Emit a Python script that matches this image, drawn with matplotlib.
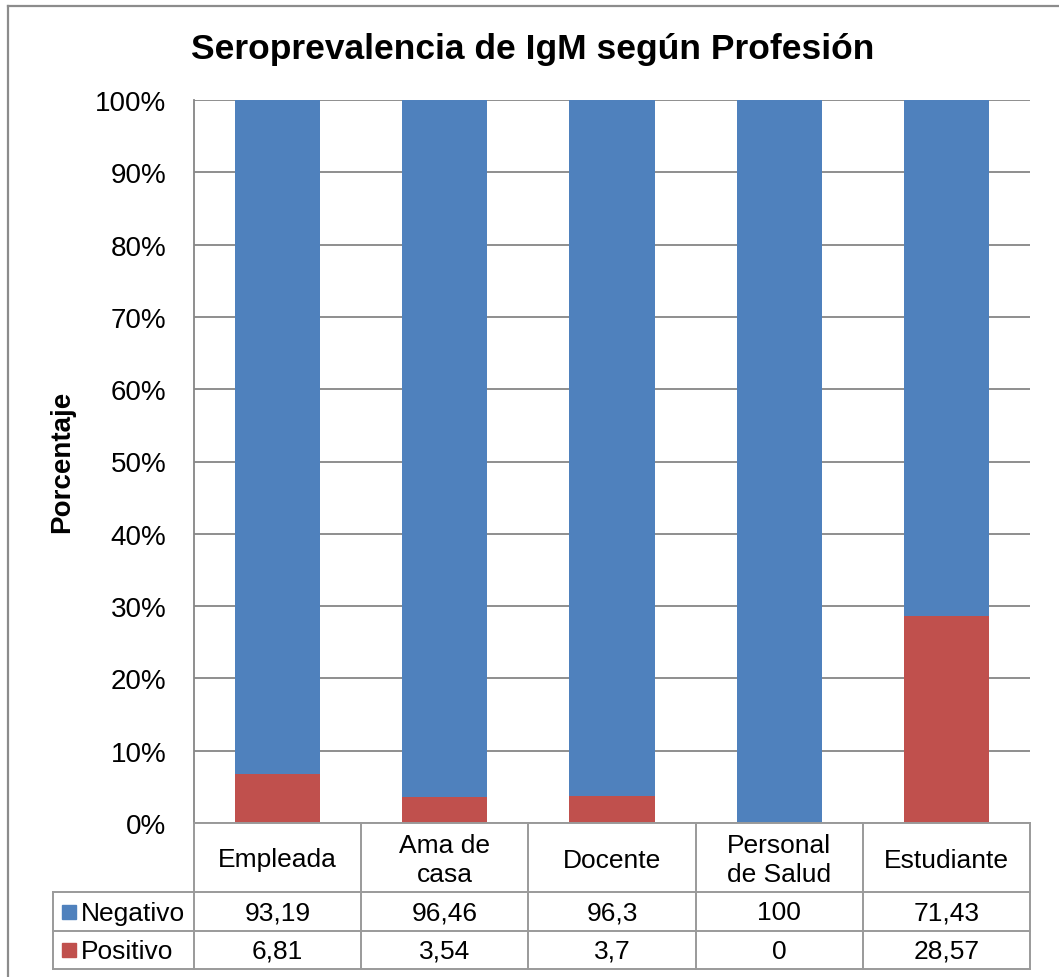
import matplotlib
matplotlib.use("Agg")
import matplotlib.pyplot as plt
from matplotlib.patches import Rectangle

plt.rcParams['font.family'] = ['Liberation Sans', 'DejaVu Sans']

profesiones = ["Empleada", "Ama de\ncasa", "Docente", "Personal\nde Salud", "Estudiante"]
negativo = [93.19, 96.46, 96.3, 100, 71.43]
positivo = [6.81, 3.54, 3.7, 0, 28.57]
series = ["Negativo", "Positivo"]
colores = ["#4F81BD", "#C0504D"]
titulo = "Seroprevalencia de IgM según Profesión"

W, H = 1059, 978
fig = plt.figure(figsize=(W / 100, H / 100), dpi=100)

# plot area in pixels
x0, x1, ytop, ybot = 194, 1030, 101, 824
ax = fig.add_axes([x0 / W, 1 - ybot / H, (x1 - x0) / W, (ybot - ytop) / H])

n = len(profesiones)
pos = list(range(n))
ax.bar(pos, positivo, width=0.51, color=colores[1], zorder=3)
ax.bar(pos, negativo, width=0.51, bottom=positivo, color=colores[0], zorder=3)
ax.set_xlim(-0.5, n - 0.5)
ax.set_ylim(0, 100)
ax.set_yticks(range(0, 101, 10))
ax.set_yticklabels([f"{t}%" for t in range(0, 101, 10)], fontsize=20)
ax.set_xticks([])
ax.yaxis.grid(True, color="#868686", linewidth=1.3, zorder=0)
ax.tick_params(axis="y", length=0, pad=20)
for s in ["top", "right", "bottom"]:
    ax.spines[s].set_visible(False)
ax.spines["left"].set_color("#868686")
ax.spines["left"].set_linewidth(1.3)

# overlay in pixel coords for title, table, border
ov = fig.add_axes([0, 0, 1, 1])
ov.set_xlim(0, W)
ov.set_ylim(H, 0)
ov.axis("off")
ov.patch.set_alpha(0)

ov.plot([8, 8], [7, H], color="#8c8c8c", lw=1.6)
ov.plot([8, W], [7, 7], color="#8c8c8c", lw=1.6)

ov.text(533, 50, titulo, ha="center", va="center",
        fontsize=25.5, fontweight="bold")
ov.text(62, 462, "Porcentaje", ha="center", va="center", rotation=90,
        fontsize=20, fontweight="bold")

lc = "#9a9a9a"
lw = 1.4
cw = (x1 - x0) / n
cols = [x0 + i * cw for i in range(n + 1)]
ty0, ty1, ty2, ty3 = 824, 893, 932, 970
tleft = 53

ov.plot([x0, x1], [ty0, ty0], color=lc, lw=lw)
for y in [ty1, ty2, ty3]:
    ov.plot([tleft, x1], [y, y], color=lc, lw=lw)
for c in cols:
    ov.plot([c, c], [ty0, ty3], color=lc, lw=lw)
ov.plot([tleft, tleft], [ty1, ty3], color=lc, lw=lw)

for i, p in enumerate(profesiones):
    ov.text((cols[i] + cols[i + 1]) / 2, (ty0 + ty1) / 2 + 2, p, ha="center",
            va="center", fontsize=19, linespacing=1.3)


def fmt(v):
    return f"{v:g}".replace(".", ",")


for r, (nombre, vals, col) in enumerate(zip(series, [negativo, positivo], colores)):
    yc = [(ty1 + ty2) / 2, (ty2 + ty3) / 2][r]
    ov.add_patch(Rectangle((62, yc - 7), 14, 14, color=col))
    ov.text(81, yc + 1, nombre, ha="left", va="center", fontsize=19)
    for i, v in enumerate(vals):
        ov.text((cols[i] + cols[i + 1]) / 2, yc + 1, fmt(v), ha="center",
                va="center", fontsize=19)

fig.savefig("out.png", dpi=100, facecolor="white")
